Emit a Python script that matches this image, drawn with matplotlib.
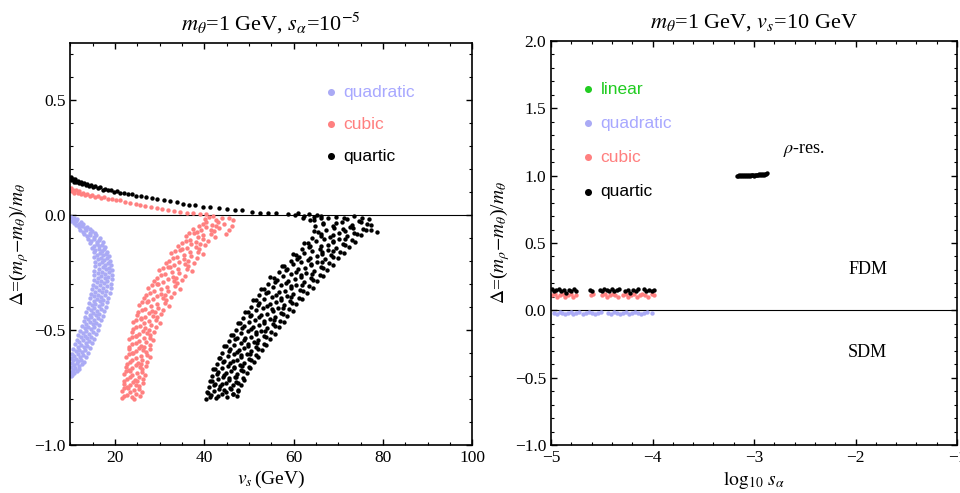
import matplotlib
matplotlib.use("Agg")
import matplotlib.pyplot as plt
from matplotlib.ticker import MultipleLocator

plt.rcParams['font.family'] = ['Liberation Serif', 'DejaVu Serif']
plt.rcParams['mathtext.fontset'] = 'stix'

# colours
c_lin = '#22cc22'
c_quad = '#aaaaf5'
c_cub = '#ff8080'
c_quar = '#000000'

# ---------------- left panel data: (v_s, Delta) ----------------
quad_left = [
    (10.2,-0.006),(10.9,-0.011),(11.5,-0.016),(10.5,-0.019),
    (10.1,-0.023),(11.3,-0.025),(12.4,-0.029),(10.8,-0.033),(11.9,-0.037),(12.9,-0.039),
    (11.2,-0.043),(12.6,-0.045),(13.8,-0.049),(11.9,-0.053),(13.2,-0.056),(14.3,-0.059),
    (12.2,-0.062),(13.6,-0.065),(14.9,-0.068),(12.9,-0.072),(14.3,-0.075),(15.6,-0.078),
    (13.1,-0.082),(14.5,-0.085),(15.8,-0.088),(13.8,-0.092),(15.2,-0.095),(16.6,-0.098),
    (13.9,-0.102),(15.3,-0.105),(16.5,-0.108),(14.6,-0.112),(16.0,-0.115),(17.2,-0.118),
    (14.4,-0.122),(15.9,-0.125),(17.1,-0.128),(15.2,-0.132),(16.5,-0.135),(17.8,-0.138),
    (14.9,-0.142),(16.3,-0.145),(17.6,-0.148),(15.6,-0.152),(17.0,-0.155),(18.2,-0.158),
    (15.2,-0.162),(16.7,-0.165),(18.0,-0.168),(15.9,-0.172),(17.3,-0.175),(18.6,-0.178),
    (15.4,-0.182),(16.9,-0.185),(18.3,-0.188),(16.2,-0.192),(17.6,-0.195),(18.9,-0.198),
    (15.5,-0.202),(17.1,-0.205),(18.5,-0.208),(16.3,-0.212),(17.8,-0.215),(19.1,-0.218),
    (15.6,-0.222),(17.2,-0.225),(18.7,-0.228),(16.4,-0.232),(17.9,-0.235),(19.3,-0.238),
    (15.4,-0.242),(17.0,-0.245),(18.6,-0.248),(16.2,-0.252),(17.8,-0.255),(19.4,-0.258),
    (15.3,-0.262),(16.9,-0.265),(18.5,-0.268),(16.1,-0.272),(17.7,-0.275),(19.3,-0.278),
    (15.2,-0.282),(16.8,-0.285),(18.3,-0.288),(16.0,-0.292),(17.5,-0.295),(19.2,-0.298),
    (15.0,-0.302),(16.6,-0.305),(18.1,-0.308),(15.8,-0.312),(17.3,-0.315),(19.0,-0.318),
    (14.8,-0.322),(16.4,-0.325),(17.9,-0.328),(15.6,-0.332),(17.1,-0.335),(18.8,-0.338),
    (14.7,-0.342),(16.2,-0.345),(17.7,-0.348),(15.4,-0.352),(16.9,-0.355),(18.5,-0.358),
    (14.5,-0.362),(15.9,-0.365),(17.4,-0.368),(15.2,-0.372),(16.6,-0.375),(18.2,-0.378),
    (14.2,-0.382),(15.6,-0.385),(17.1,-0.388),(14.9,-0.392),(16.3,-0.395),(17.9,-0.398),
    (13.9,-0.402),(15.3,-0.405),(16.8,-0.408),(14.6,-0.412),(16.0,-0.415),(17.6,-0.418),
    (13.6,-0.422),(15.0,-0.425),(16.5,-0.428),(14.3,-0.432),(15.7,-0.435),(17.2,-0.438),
    (13.3,-0.442),(14.7,-0.445),(16.1,-0.448),(14.0,-0.452),(15.4,-0.455),(16.9,-0.458),
    (13.0,-0.462),(14.4,-0.465),(15.8,-0.468),(13.6,-0.472),(15.0,-0.475),(16.5,-0.478),
    (12.6,-0.482),(14.0,-0.485),(15.4,-0.488),(13.2,-0.492),(14.6,-0.495),(16.1,-0.498),
    (12.2,-0.502),(13.6,-0.505),(15.0,-0.508),(12.8,-0.512),(14.2,-0.515),(15.7,-0.518),
    (11.8,-0.522),(13.2,-0.525),(14.6,-0.528),(12.4,-0.532),(13.8,-0.535),(15.3,-0.538),
    (11.4,-0.542),(12.8,-0.545),(14.2,-0.548),(12.0,-0.552),(13.4,-0.555),(14.9,-0.558),
    (11.0,-0.562),(12.4,-0.565),(13.8,-0.568),(11.6,-0.572),(13.0,-0.575),(14.4,-0.578),
    (10.6,-0.582),(12.0,-0.585),(13.3,-0.588),(11.2,-0.592),(12.6,-0.595),(13.9,-0.598),
    (10.3,-0.602),(11.6,-0.605),(12.9,-0.608),(10.9,-0.612),(12.2,-0.615),(13.5,-0.618),
    (10.1,-0.622),(11.2,-0.625),(12.4,-0.628),(10.6,-0.632),(11.8,-0.635),(13.0,-0.638),
    (10.3,-0.642),(11.4,-0.645),(12.5,-0.648),(10.8,-0.652),(11.9,-0.655),
    (10.1,-0.662),(11.0,-0.665),(11.9,-0.668),(10.5,-0.672),(11.4,-0.676),
    (10.2,-0.683),(10.9,-0.687),(10.4,-0.694),(10.1,-0.699),
]

cub_upper = [
    (10.1,0.118),(10.3,0.104),(10.6,0.112),(10.9,0.099),(11.2,0.108),(11.6,0.097),(12.0,0.104),
    (12.4,0.093),(12.9,0.099),(13.3,0.089),(13.8,0.094),(14.3,0.085),(14.9,0.088),(15.5,0.080),
    (16.2,0.083),(16.9,0.075),(17.6,0.078),(18.4,0.070),(19.3,0.072),(20.2,0.065),(21.1,0.067),
    (22.3,0.058),(23.4,0.055),(24.6,0.048),(25.5,0.043),(26.8,0.040),(28.0,0.034),(29.3,0.030),
    (30.5,0.026),(31.8,0.022),(33.2,0.017),(34.6,0.014),(36.0,0.011),(37.5,0.008),(39.0,0.006),
    (40.3,0.004),
]

cub_lower = [
    (21.5,-0.797),(22.7,-0.781),(23.7,-0.792),(24.6,-0.778),(25.5,-0.788),(22.1,-0.787),(24.3,-0.798),
    (22.1,-0.754),(23.4,-0.771),(25.4,-0.758),(21.5,-0.765),(24.2,-0.761),(26.1,-0.769),(22.8,-0.751),
    (22.0,-0.734),(23.3,-0.741),(24.0,-0.727),(25.3,-0.745),(26.2,-0.731),(22.6,-0.749),(24.8,-0.737),
    (22.1,-0.722),(23.3,-0.706),(24.4,-0.717),(25.4,-0.703),(26.3,-0.713),(22.7,-0.712),(24.9,-0.723),
    (22.5,-0.679),(23.9,-0.696),(26.1,-0.683),(21.9,-0.690),(24.9,-0.686),(26.8,-0.694),(23.3,-0.676),
    (22.5,-0.659),(23.9,-0.666),(24.6,-0.652),(26.1,-0.670),(26.9,-0.656),(23.2,-0.674),(25.5,-0.662),
    (22.6,-0.647),(23.9,-0.631),(25.1,-0.642),(26.1,-0.628),(27.2,-0.638),(23.3,-0.637),(25.7,-0.648),
    (23.2,-0.604),(24.7,-0.621),(27.1,-0.608),(22.5,-0.615),(25.7,-0.611),(27.8,-0.619),(24.0,-0.601),
    (23.1,-0.584),(24.6,-0.591),(25.4,-0.577),(26.9,-0.595),(27.8,-0.581),(23.9,-0.599),(26.3,-0.587),
    (23.2,-0.572),(24.6,-0.556),(25.8,-0.567),(26.9,-0.553),(27.9,-0.563),(23.9,-0.562),(26.4,-0.573),
    (23.8,-0.529),(25.4,-0.546),(27.8,-0.533),(23.1,-0.540),(26.4,-0.536),(28.6,-0.544),(24.6,-0.526),
    (23.9,-0.509),(25.4,-0.516),(26.2,-0.502),(27.8,-0.520),(28.8,-0.506),(24.6,-0.524),(27.2,-0.512),
    (24.0,-0.497),(25.5,-0.481),(26.8,-0.492),(28.0,-0.478),(29.1,-0.488),(24.8,-0.487),(27.5,-0.498),
    (24.8,-0.454),(26.5,-0.471),(29.2,-0.458),(24.1,-0.465),(27.6,-0.461),(30.0,-0.469),(25.7,-0.451),
    (24.9,-0.434),(26.6,-0.441),(27.5,-0.427),(29.3,-0.445),(30.4,-0.431),(25.7,-0.449),(28.6,-0.437),
    (25.1,-0.422),(26.8,-0.406),(28.3,-0.417),(29.6,-0.403),(30.8,-0.413),(26.0,-0.412),(29.0,-0.423),
    (26.1,-0.379),(28.1,-0.396),(31.1,-0.383),(25.3,-0.390),(29.4,-0.386),(32.1,-0.394),(27.2,-0.376),
    (26.5,-0.359),(28.4,-0.366),(29.4,-0.352),(31.4,-0.370),(32.6,-0.356),(27.4,-0.374),(30.7,-0.362),
    (27.0,-0.347),(28.8,-0.331),(30.4,-0.342),(31.8,-0.328),(33.2,-0.338),(27.9,-0.337),(31.2,-0.348),
    (28.2,-0.304),(30.3,-0.321),(33.4,-0.308),(27.3,-0.315),(31.6,-0.311),(34.5,-0.319),(29.3,-0.301),
    (28.7,-0.284),(30.7,-0.291),(31.8,-0.277),(33.8,-0.295),(35.1,-0.281),(29.7,-0.299),(33.1,-0.287),
    (29.3,-0.272),(31.2,-0.256),(32.9,-0.267),(34.3,-0.253),(35.7,-0.263),(30.3,-0.262),(33.7,-0.273),
    (30.7,-0.229),(32.8,-0.246),(36.1,-0.233),(29.8,-0.240),(34.2,-0.236),(37.2,-0.244),(31.9,-0.226),
    (31.3,-0.209),(33.3,-0.216),(34.4,-0.202),(36.4,-0.220),(37.7,-0.206),(32.3,-0.224),(35.7,-0.212),
    (32.0,-0.197),(33.8,-0.181),(35.4,-0.192),(36.9,-0.178),(38.3,-0.188),(32.9,-0.187),(36.3,-0.198),
    (33.4,-0.154),(35.4,-0.171),(38.6,-0.158),(32.5,-0.165),(36.7,-0.161),(39.6,-0.169),(34.5,-0.151),
    (34.1,-0.134),(36.0,-0.141),(37.0,-0.127),(38.9,-0.145),(40.1,-0.131),(35.0,-0.149),(38.2,-0.137),
    (34.9,-0.122),(36.7,-0.106),(38.2,-0.117),(39.6,-0.103),(40.9,-0.113),(35.9,-0.112),(39.0,-0.123),
    (36.6,-0.079),(38.5,-0.096),(41.4,-0.083),(35.8,-0.090),(39.7,-0.086),(42.4,-0.094),(37.6,-0.076),
    (37.5,-0.059),(39.3,-0.066),(40.3,-0.052),(42.1,-0.070),(43.2,-0.056),(38.4,-0.074),(41.4,-0.062),
    (38.7,-0.047),(40.4,-0.031),(41.8,-0.042),(43.1,-0.028),(44.3,-0.038),(39.6,-0.037),(42.6,-0.048),
    (41.0,-0.006),(42.7,-0.021),(45.4,-0.010),(40.2,-0.015),(43.9,-0.012),(46.3,-0.019),(41.9,-0.004),
    (46.2,-0.045),(45.6,-0.062),(44.8,-0.080),
]

quar_upper = [
    (10.1,0.168),(10.2,0.152),(10.5,0.160),(10.8,0.146),(11.0,0.157),(11.3,0.143),(11.6,0.151),
    (11.9,0.139),(12.3,0.147),(12.6,0.135),(13.0,0.141),(13.4,0.130),(13.8,0.136),(14.2,0.126),
    (14.6,0.131),(15.1,0.121),(15.6,0.126),(16.1,0.117),(16.6,0.121),(17.2,0.112),(17.8,0.116),
    (18.4,0.108),(19.0,0.111),(19.7,0.102),(20.4,0.105),(21.2,0.097),(22.0,0.099),(22.9,0.091),
    (23.8,0.093),(24.8,0.085),(25.9,0.086),(27.0,0.078),(28.3,0.076),(29.5,0.069),(30.9,0.066),
    (32.4,0.060),(33.9,0.056),(35.2,0.051),(36.6,0.046),(38.0,0.043),(39.7,0.036),(41.3,0.034),
    (43.2,0.030),(45.0,0.027),(46.8,0.024),(48.5,0.021),(50.6,0.014),(52.4,0.012),(54.3,0.010),
    (56.1,0.009),(58.8,0.006),(60.2,0.003),(61.0,0.008),(62.3,-0.002),(63.4,0.004),(64.5,-0.006),
    (65.3,0.002),(66.0,-0.010),
]

quar_lower = [
    (40.3,-0.798),(42.6,-0.794),(45.0,-0.791),(47.2,-0.788),(41.5,-0.784),(43.9,-0.780),(46.3,-0.776),
    (40.9,-0.772),(44.8,-0.768),(42.2,-0.764),(47.6,-0.760),(43.3,-0.756),(45.7,-0.752),
    (41.0,-0.748),(43.5,-0.745),(46.4,-0.741),(48.3,-0.737),(42.3,-0.733),(44.9,-0.729),(47.1,-0.725),
    (41.7,-0.721),(45.6,-0.717),(43.0,-0.713),(48.6,-0.709),(44.2,-0.705),(46.8,-0.702),
    (41.6,-0.698),(44.5,-0.695),(47.4,-0.691),(49.6,-0.687),(43.0,-0.683),(45.9,-0.679),(48.3,-0.675),
    (42.4,-0.671),(46.7,-0.667),(44.0,-0.663),(50.0,-0.659),(45.3,-0.655),(47.9,-0.652),
    (42.8,-0.648),(45.8,-0.645),(48.9,-0.641),(51.1,-0.637),(44.3,-0.633),(47.4,-0.629),(49.9,-0.625),
    (43.6,-0.621),(48.2,-0.617),(45.3,-0.613),(51.6,-0.609),(46.6,-0.605),(49.5,-0.602),
    (44.0,-0.598),(47.3,-0.595),(50.4,-0.591),(52.8,-0.587),(45.7,-0.583),(48.9,-0.579),(51.6,-0.575),
    (44.9,-0.571),(49.8,-0.567),(46.7,-0.563),(53.3,-0.559),(48.1,-0.555),(51.0,-0.552),
    (45.4,-0.548),(48.8,-0.545),(52.1,-0.541),(54.6,-0.537),(47.2,-0.533),(50.5,-0.529),(53.4,-0.525),
    (46.4,-0.521),(51.5,-0.517),(48.2,-0.513),(55.0,-0.509),(49.7,-0.505),(52.7,-0.502),
    (47.0,-0.498),(50.5,-0.495),(54.0,-0.491),(56.6,-0.487),(48.8,-0.483),(52.3,-0.479),(55.3,-0.475),
    (48.0,-0.471),(53.4,-0.467),(49.9,-0.463),(57.0,-0.459),(51.4,-0.455),(54.6,-0.452),
    (48.6,-0.448),(52.3,-0.445),(55.9,-0.441),(58.6,-0.437),(50.5,-0.433),(54.1,-0.429),(57.2,-0.425),
    (49.7,-0.421),(55.3,-0.417),(51.6,-0.413),(59.0,-0.409),(53.2,-0.405),(56.5,-0.402),
    (50.4,-0.398),(54.1,-0.395),(57.8,-0.391),(60.6,-0.387),(52.3,-0.383),(56.0,-0.379),(59.2,-0.375),
    (51.5,-0.371),(57.2,-0.367),(53.4,-0.363),(61.1,-0.359),(55.1,-0.355),(58.4,-0.352),
    (52.2,-0.348),(56.1,-0.345),(59.9,-0.341),(62.9,-0.337),(54.2,-0.333),(58.1,-0.329),(61.5,-0.325),
    (53.4,-0.321),(59.4,-0.317),(55.4,-0.313),(63.5,-0.309),(57.1,-0.305),(60.6,-0.302),
    (54.3,-0.298),(58.3,-0.295),(62.2,-0.291),(65.2,-0.287),(56.3,-0.283),(60.3,-0.279),(63.8,-0.275),
    (55.5,-0.271),(61.6,-0.267),(57.5,-0.263),(65.8,-0.259),(59.3,-0.255),(62.8,-0.252),
    (56.7,-0.248),(60.6,-0.245),(64.5,-0.241),(67.4,-0.237),(58.6,-0.233),(62.6,-0.229),(66.0,-0.225),
    (57.9,-0.221),(63.9,-0.217),(59.8,-0.213),(68.0,-0.209),(61.6,-0.205),(65.1,-0.202),
    (59.3,-0.198),(63.2,-0.195),(66.9,-0.191),(69.8,-0.187),(61.1,-0.183),(65.1,-0.179),(68.4,-0.175),
    (60.5,-0.171),(66.3,-0.167),(62.4,-0.163),(70.4,-0.159),(64.1,-0.155),(67.6,-0.152),
    (61.9,-0.148),(65.8,-0.145),(69.5,-0.141),(72.4,-0.137),(63.7,-0.133),(67.7,-0.129),(71.0,-0.125),
    (63.1,-0.121),(68.9,-0.117),(65.0,-0.113),(73.0,-0.109),(66.7,-0.105),(70.2,-0.102),
    (64.2,-0.098),(68.2,-0.095),(72.0,-0.091),(75.0,-0.087),(66.0,-0.083),(70.1,-0.079),(73.6,-0.075),
    (65.4,-0.071),(71.4,-0.067),(67.3,-0.063),(75.6,-0.059),(69.1,-0.055),(72.7,-0.052),(78.7,-0.074),
    (77.3,-0.062),
    (64.8,-0.048),(68.9,-0.045),(73.1,-0.041),(76.5,-0.037),(66.5,-0.033),(70.7,-0.029),(74.5,-0.025),
    (63.6,-0.021),(72.0,-0.017),(67.7,-0.013),(77.4,-0.041),(75.2,-0.011),(69.5,-0.008),(62.1,-0.012),
    (66.0,-0.004),
    # second pass through the same band
    (41.3,-0.790),(44.5,-0.760),(46.3,-0.780),(40.5,-0.770),(46.0,-0.755),(43.0,-0.785),(47.6,-0.765),
    (42.1,-0.740),(45.5,-0.710),(47.5,-0.730),(41.2,-0.720),(47.1,-0.705),(44.0,-0.735),(48.9,-0.715),
    (42.8,-0.690),(46.7,-0.660),(48.7,-0.680),(42.0,-0.670),(48.5,-0.655),(44.8,-0.685),(50.3,-0.665),
    (44.1,-0.640),(48.2,-0.610),(50.4,-0.630),(43.2,-0.620),(50.1,-0.605),(46.3,-0.635),(52.1,-0.615),
    (45.4,-0.590),(49.8,-0.560),(52.0,-0.580),(44.5,-0.570),(51.8,-0.555),(47.7,-0.585),(53.9,-0.565),
    (46.9,-0.540),(51.5,-0.510),(53.8,-0.530),(45.9,-0.520),(53.6,-0.505),(49.2,-0.535),(55.8,-0.515),
    (48.5,-0.490),(53.3,-0.460),(55.8,-0.480),(47.5,-0.470),(55.5,-0.455),(50.9,-0.485),(57.8,-0.465),
    (50.1,-0.440),(55.2,-0.410),(57.7,-0.430),(49.1,-0.420),(57.5,-0.405),(52.7,-0.435),(59.8,-0.415),
    (51.9,-0.390),(57.1,-0.360),(59.7,-0.380),(50.8,-0.370),(59.5,-0.355),(54.6,-0.385),(61.9,-0.365),
    (53.7,-0.340),(59.3,-0.310),(62.0,-0.330),(52.7,-0.320),(61.8,-0.305),(56.6,-0.335),(64.3,-0.315),
    (55.9,-0.290),(61.6,-0.260),(64.3,-0.280),(54.8,-0.270),(64.1,-0.255),(58.7,-0.285),(66.6,-0.265),
    (58.2,-0.240),(63.9,-0.210),(66.5,-0.230),(57.3,-0.220),(66.4,-0.205),(61.0,-0.235),(68.9,-0.215),
    (60.7,-0.190),(66.4,-0.160),(68.8,-0.180),(59.9,-0.170),(68.8,-0.155),(63.6,-0.185),(71.2,-0.165),
    (63.4,-0.140),(68.9,-0.110),(71.5,-0.130),(62.4,-0.120),(71.4,-0.105),(66.2,-0.135),(73.8,-0.115),
    (66.1,-0.090),(71.0,-0.060),(74.1,-0.080),(64.6,-0.070),(73.3,-0.055),(68.8,-0.085),(76.1,-0.065),
    (66.6,-0.040),(71.2,-0.010),(75.1,-0.030),(64.5,-0.020),(73.6,-0.005),(69.5,-0.035),(76.8,-0.015),
]

# ---------------- right panel data: (log10 s_alpha, Delta) ----------------
quar_right_x = [-4.99,-4.97,-4.95,-4.92,-4.90,-4.87,-4.85,-4.82,-4.80,-4.77,-4.75,-4.62,-4.60,
                -4.52,-4.50,-4.48,-4.45,-4.43,-4.40,-4.38,-4.35,-4.33,-4.27,-4.24,-4.22,-4.19,
                -4.16,-4.14,-4.08,-4.06,-4.03,-4.01,-3.99]
quar_right_y = [0.16,0.14,0.15,0.16,0.14,0.15,0.13,0.15,0.14,0.16,0.14,0.15,0.14,
                0.15,0.14,0.16,0.15,0.14,0.16,0.14,0.15,0.16,0.14,0.15,0.13,0.15,
                0.14,0.16,0.16,0.14,0.15,0.14,0.15]

cub_right_x = [-4.99,-4.96,-4.94,-4.91,-4.88,-4.86,-4.83,-4.80,-4.78,-4.75,-4.61,-4.59,
               -4.50,-4.47,-4.45,-4.42,-4.39,-4.37,-4.34,-4.29,-4.26,-4.24,-4.21,-4.18,
               -4.15,-4.12,-4.10,-4.07,-4.04,-4.01,-3.99]
cub_right_y = [0.11,0.12,0.10,0.11,0.12,0.10,0.11,0.12,0.10,0.11,0.11,0.12,
               0.11,0.12,0.10,0.11,0.12,0.11,0.10,0.11,0.12,0.10,0.11,0.12,
               0.10,0.11,0.12,0.11,0.10,0.12,0.11]

quad_right_x = [-4.97,-4.94,-4.91,-4.89,-4.86,-4.83,-4.80,-4.78,-4.75,-4.72,-4.69,-4.66,
                -4.63,-4.60,-4.57,-4.54,-4.51,-4.44,-4.41,-4.38,-4.35,-4.32,-4.29,-4.26,
                -4.23,-4.20,-4.17,-4.14,-4.11,-4.08,-4.05,-4.01]
quad_right_y = [-0.02,-0.03,-0.01,-0.02,-0.03,-0.02,-0.01,-0.03,-0.02,-0.01,-0.03,-0.02,
                -0.01,-0.02,-0.03,-0.02,-0.01,-0.02,-0.03,-0.01,-0.02,-0.03,-0.02,-0.01,
                -0.03,-0.02,-0.01,-0.02,-0.03,-0.02,-0.01,-0.02]

res_x = [-3.17,-3.16,-3.15,-3.14,-3.13,-3.12,-3.11,-3.10,-3.09,-3.08,-3.07,-3.06,-3.05,-3.04,
         -3.03,-3.02,-3.01,-3.00,-2.99,-2.98,-2.97,-2.96,-2.95,-2.94,-2.93,-2.92,-2.91,-2.90,
         -2.89,-2.88,-2.87]
res_y = [1.000,0.996,1.004,0.999,1.002,0.997,1.005,1.000,1.003,0.998,1.006,1.001,1.004,1.000,
         1.007,1.002,1.005,1.001,1.008,1.004,1.006,1.003,1.009,1.005,1.010,1.006,1.012,1.008,
         1.013,1.010,1.016]

left_xticks = [20, 40, 60, 80, 100]
left_yticks = [-1.0, -0.5, 0.0, 0.5]
right_xticks = [-5, -4, -3, -2, -1]
right_yticks = [-1.0, -0.5, 0.0, 0.5, 1.0, 1.5, 2.0]

fig = plt.figure(figsize=(9.6, 4.93), dpi=100)
ax1 = fig.add_axes([0.0733, 0.0974, 0.4188, 0.8154])
ax2 = fig.add_axes([0.5740, 0.0974, 0.4229, 0.8195])

ms = 10


def unzip(pts):
    return [p[0] for p in pts], [p[1] for p in pts]


def style(ax):
    ax.tick_params(which='both', direction='in', top=True, right=True, labelsize=12.5)
    ax.tick_params(which='major', length=4.5, width=1.0)
    ax.tick_params(which='minor', length=2.5, width=0.8)
    for s in ax.spines.values():
        s.set_linewidth(1.2)
    ax.axhline(0, color='black', lw=0.8, zorder=1)


# left
qx, qy = unzip(quad_left)
ax1.scatter(qx, qy, s=ms, color=c_quad, linewidths=0, label='quadratic', zorder=2)
cx, cy = unzip(cub_upper + cub_lower)
ax1.scatter(cx, cy, s=ms, color=c_cub, linewidths=0, label='cubic', zorder=2)
kx, ky = unzip(quar_upper + quar_lower)
ax1.scatter(kx, ky, s=ms, color=c_quar, linewidths=0, label='quartic', zorder=3)

ax1.set_xlim(10, 100)
ax1.set_ylim(-1, 0.75)
ax1.set_xticks(left_xticks)
ax1.set_yticks(left_yticks)
ax1.xaxis.set_minor_locator(MultipleLocator(5))
ax1.yaxis.set_minor_locator(MultipleLocator(0.1))
style(ax1)
ax1.set_title(r'$m_\theta$=1 GeV, $s_\alpha$=10$^{-5}$', fontsize=16, pad=9)
ax1.set_xlabel(r'$v_s\,$(GeV)', fontsize=14, labelpad=2)
ax1.set_ylabel(r'$\Delta$=($m_\rho$$-$$m_\theta$)/$m_\theta$', fontsize=14, labelpad=2)

leg1 = ax1.legend(loc='upper left', bbox_to_anchor=(0.63, 0.897), frameon=False,
                  prop={'family': 'Liberation Sans', 'size': 12.5}, handlelength=0.8,
                  handletextpad=0.3, labelspacing=0.98, markerscale=1.6,
                  borderpad=0, borderaxespad=0)
for t, c in zip(leg1.get_texts(), ['#a8a8ff', '#ff7f7f', '#000000']):
    t.set_color(c)

# right
ax2.scatter([], [], s=ms, color=c_lin, linewidths=0, label='linear')
ax2.scatter(quad_right_x, quad_right_y, s=ms, color=c_quad, linewidths=0, label='quadratic', zorder=2)
ax2.scatter(cub_right_x, cub_right_y, s=ms, color=c_cub, linewidths=0, label='cubic', zorder=2)
ax2.scatter(quar_right_x + res_x, quar_right_y + res_y, s=ms, color=c_quar, linewidths=0,
            label='quartic', zorder=3)

ax2.set_xlim(-5, -1)
ax2.set_ylim(-1, 2)
ax2.set_xticks(right_xticks)
ax2.set_yticks(right_yticks)
ax2.xaxis.set_minor_locator(MultipleLocator(0.2))
ax2.yaxis.set_minor_locator(MultipleLocator(0.1))
style(ax2)
ax2.set_title(r'$m_\theta$=1 GeV, $v_s$=10 GeV', fontsize=16, pad=10)
ax2.set_xlabel(r'$\log_{10}\, s_\alpha$', fontsize=14, labelpad=2)
ax2.set_ylabel(r'$\Delta$=($m_\rho$$-$$m_\theta$)/$m_\theta$', fontsize=14, labelpad=2)

ax2.text(-2.71, 1.19, r'$\rho$-res.', fontsize=13, va='center', ha='left')
ax2.text(-1.88, 0.30, 'FDM', fontsize=13, va='center', ha='center')
ax2.text(-1.88, -0.31, 'SDM', fontsize=13, va='center', ha='center')

leg2 = ax2.legend(loc='upper left', bbox_to_anchor=(0.075, 0.90), frameon=False,
                  prop={'family': 'Liberation Sans', 'size': 12.5}, handlelength=0.8,
                  handletextpad=0.3, labelspacing=1.1, markerscale=1.6,
                  borderpad=0, borderaxespad=0)
for t, c in zip(leg2.get_texts(), ['#22cc22', '#a8a8ff', '#ff7f7f', '#000000']):
    t.set_color(c)

fig.savefig('out.png', dpi=100)
